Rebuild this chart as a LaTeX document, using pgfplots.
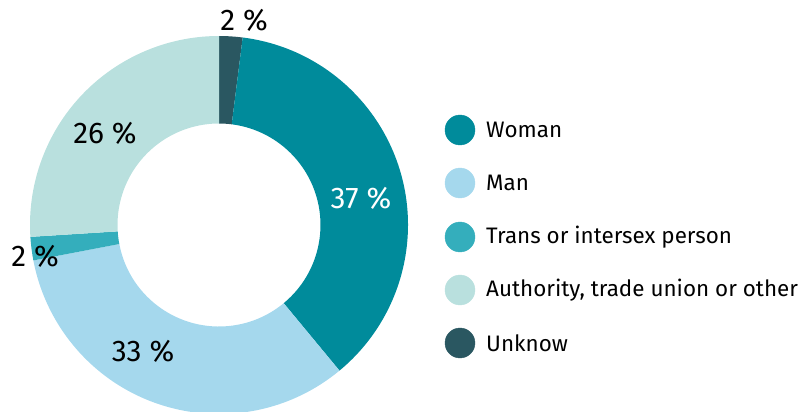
\documentclass[border=0pt]{standalone}
\usepackage{pgfplots}
\pgfplotsset{compat=1.18}
\usepackage{fontspec}
\setmainfont{Fira Sans}

\definecolor{cwoman}{RGB}{0,139,155}
\definecolor{cman}{RGB}{165,216,237}
\definecolor{ctrans}{RGB}{52,174,188}
\definecolor{cauth}{RGB}{185,224,222}
\definecolor{cunknow}{RGB}{42,87,97}

% share (%) / colour, clockwise from 12 o'clock
\def\slices{2/cunknow,37/cwoman,33/cman,2/ctrans,26/cauth}

\begin{document}
\begin{tikzpicture}
\begin{axis}[
    x=1bp, y=1bp,
    scale only axis,
    hide axis,
    xmin=0, xmax=806,
    ymin=0, ymax=412,
    clip=true,
]
    % donut
    \gdef\acc{90}
    \foreach \p/\c in \slices {
        \pgfmathsetmacro\aend{\acc-3.6*\p}
        \edef\cmd{\noexpand\fill[\c] ([shift={(\acc:189bp)}]axis cs:219,187)
            arc[start angle=\acc, end angle=\aend, radius=189bp]
            -- ([shift={(\aend:101.5bp)}]axis cs:219,187)
            arc[start angle=\aend, end angle=\acc, radius=101.5bp] -- cycle;}
        \cmd
        \xdef\acc{\aend}
    }

    % percentage labels
    \begin{scope}[every node/.style={font=\fontsize{30}{33}\selectfont}]
        \node at (axis cs:244,392) {2 \%};
        \node[white] at (axis cs:361,214) {37 \%};
        \node at (axis cs:143,61) {33 \%};
        \node at (axis cs:35,156) {2 \%};
        \node at (axis cs:105,279) {26 \%};
    \end{scope}

    % legend
    \addplot[only marks, mark=*, mark size=15bp, cwoman] coordinates {(460,282)};
    \addplot[only marks, mark=*, mark size=15bp, cman] coordinates {(460,229)};
    \addplot[only marks, mark=*, mark size=15bp, ctrans] coordinates {(460,175)};
    \addplot[only marks, mark=*, mark size=15bp, cauth] coordinates {(460,122)};
    \addplot[only marks, mark=*, mark size=15bp, cunknow] coordinates {(460,69)};
    \begin{scope}[every node/.style={anchor=west, inner sep=0pt, font=\fontsize{22.5}{26}\selectfont}]
        \node at (axis cs:486,282) {Woman};
        \node at (axis cs:486,229) {Man};
        \node at (axis cs:486,175) {Trans or intersex person};
        \node at (axis cs:486,122) {Authority, trade union or other};
        \node at (axis cs:486,69) {Unknow};
    \end{scope}
\end{axis}
\pgfresetboundingbox
\useasboundingbox (0,0) rectangle (806bp,412bp);
\end{tikzpicture}
\end{document}
